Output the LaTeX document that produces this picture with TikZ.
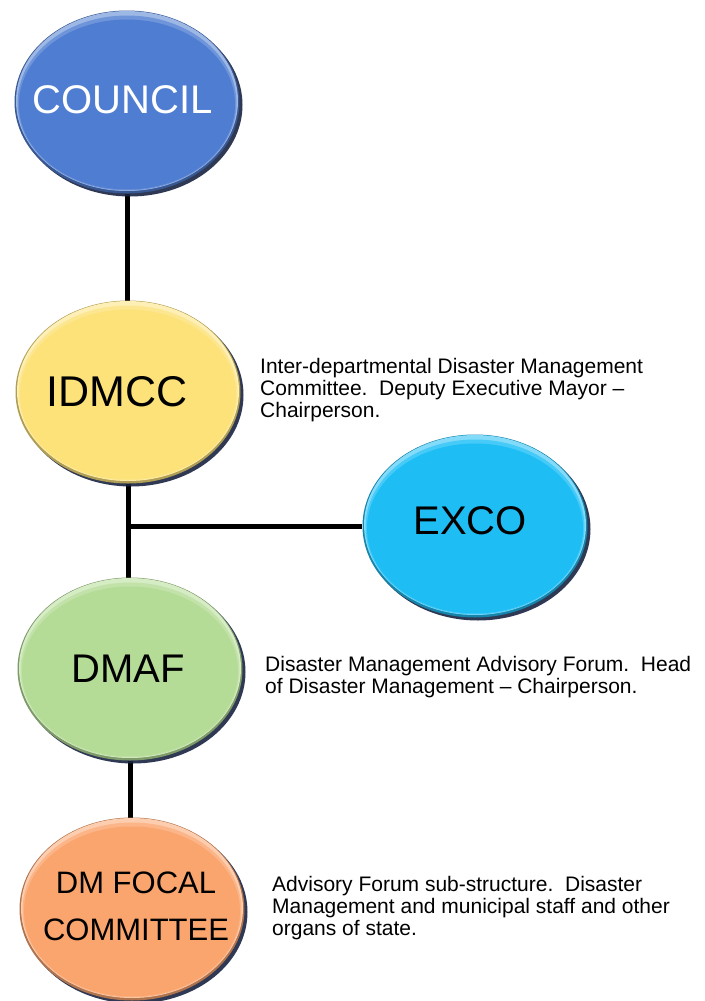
\documentclass[tikz,border=0pt]{standalone}
\usepackage{fontspec}
\setmainfont{Liberation Sans}
\usetikzlibrary{shapes.geometric,shadows,backgrounds}
\definecolor{councilc}{RGB}{78,125,210}
\definecolor{idmccc}{RGB}{252,226,120}
\definecolor{excoc}{RGB}{30,190,245}
\definecolor{dmafc}{RGB}{180,220,150}
\definecolor{focalc}{RGB}{250,165,110}
\definecolor{shadowc}{RGB}{25,35,65}
\newcommand{\ctext}[2][0pt]{\makebox[0pt][c]{\hspace*{#1}\raisebox{0pt}{#2}}}
\tikzset{
  bubble/.style={ellipse, inner sep=0pt, minimum width=225pt, minimum height=183pt,
    fill=#1!70!black, align=center,
    drop shadow={shadow xshift=3pt, shadow yshift=-3pt, fill=shadowc, opacity=0.9},
    path picture={
      \fill[#1!55!white] ([yshift=1pt]path picture bounding box.center) ellipse [x radius=111pt, y radius=90pt];
      \fill[#1!82!white] ([yshift=-1pt]path picture bounding box.center) ellipse [x radius=109.5pt, y radius=87.5pt];
      \fill[#1] ([yshift=-2.5pt]path picture bounding box.center) ellipse [x radius=108pt, y radius=85pt];
    }},
  bigtext/.style={font=\fontsize{40}{44}\selectfont},
  sidetext/.style={anchor=west, inner sep=0pt, align=left, font=\fontsize{21}{21.7}\selectfont},
  conn/.style={line width=5pt, black},
}
\begin{document}
\begin{tikzpicture}[x=1pt,y=-1pt]
\useasboundingbox (0,0) rectangle (704,1001);
\node[bubble=councilc, bigtext, text=white] (council) at (127,102) {\makebox[0pt][c]{\hspace*{-8pt}\raisebox{4pt}{COUNCIL}}};
\node[bubble=idmccc, font=\fontsize{43}{46}\selectfont] (idmcc) at (128,392) {\makebox[0pt][c]{\hspace*{-22pt}IDMCC}};
\node[bubble=excoc, bigtext] (exco) at (475,526) {\makebox[0pt][c]{\hspace*{-10pt}\raisebox{11pt}{EXCO}}};
\node[bubble=dmafc, bigtext] (dmaf) at (130,669) {\makebox[0pt][c]{\hspace*{-4pt}DMAF}};
\node[bubble=focalc, font=\fontsize{31}{42}\selectfont] (focal) at (132,909) {\makebox[0pt][c]{\hspace*{8pt}\raisebox{4pt}{\begin{tabular}{@{}c@{}}DM FOCAL\\[5pt]COMMITTEE\end{tabular}}}};
\coordinate (j) at (idmcc |- exco);
\begin{scope}[on background layer]
  \draw[conn] (council) -- (council |- idmcc);
  \draw[conn] (idmcc) -- (idmcc |- dmaf);
  \draw[conn] (j) -- (exco);
  \draw[conn] (dmaf) -- (dmaf |- focal);
\end{scope}
\node[sidetext] (t1) at (260,390) {Inter-departmental Disaster Management\\Committee.\ \ Deputy Executive Mayor --\\Chairperson.};
\node[sidetext] (t2) at (265,677) {Disaster Management Advisory Forum.\ \ Head\\of Disaster Management -- Chairperson.};
\node[sidetext] (t3) at (272,908) {Advisory Forum sub-structure.\ \ Disaster\\Management and municipal staff and other\\organs of state.};
\end{tikzpicture}
\end{document}
